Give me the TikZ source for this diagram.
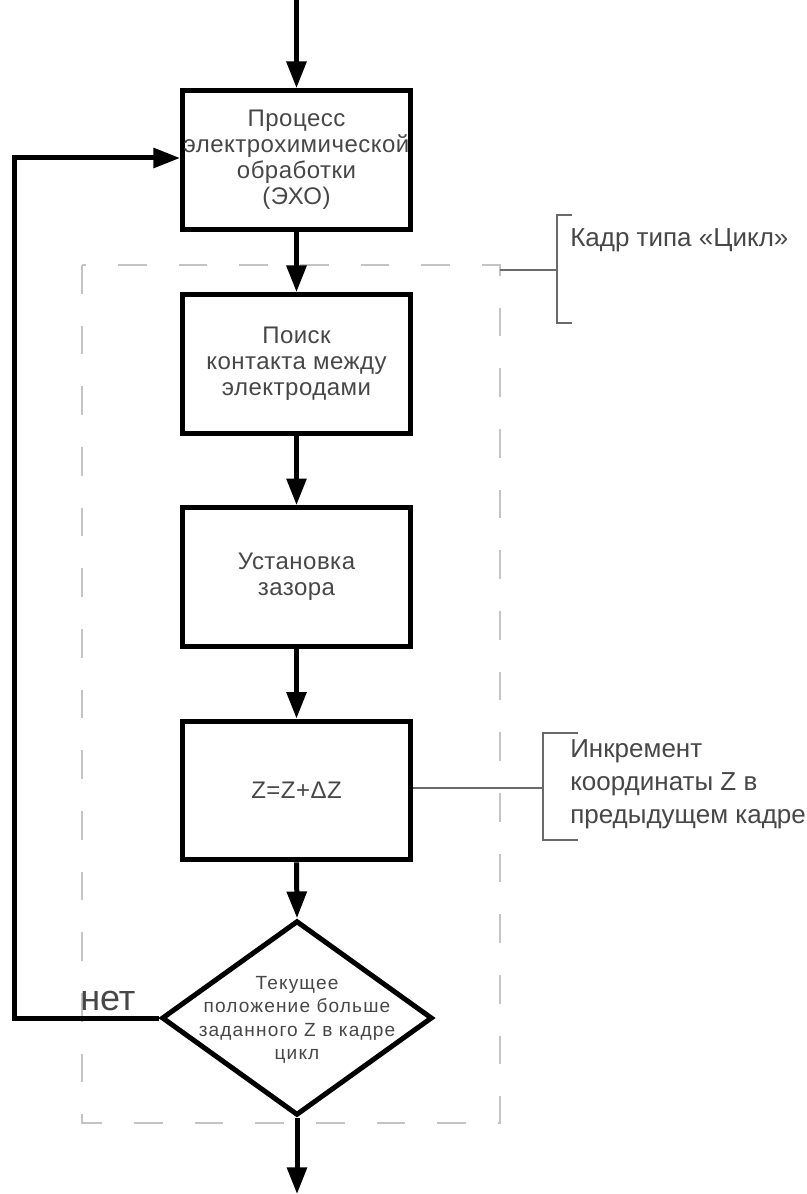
\documentclass[tikz,border=0pt]{standalone}
\usepackage{fontspec}
\setmainfont{Liberation Sans}
\usetikzlibrary{shapes.geometric,arrows.meta}
\definecolor{txt}{HTML}{474747}
\definecolor{dashc}{HTML}{C4C4C4}
\definecolor{annc}{HTML}{6A6A6A}
\tikzset{
  every node/.style={text=txt},
  procbox/.style={draw=black, line width=3.75pt, minimum width=171pt, minimum height=104pt, inner sep=0pt, align=center, font=\fontsize{18}{19.5}\selectfont\addfontfeatures{LetterSpace=2}},
  flow/.style={line width=3.75pt, draw=black, -{Triangle[length=20pt,width=14.5pt]}},
  frame/.style={draw=dashc, line width=0.9pt, dash pattern=on 21.5pt off 24pt},
  ann/.style={draw=annc, line width=0.8pt},
  anntext/.style={anchor=north west, align=left, inner sep=0pt, font=\fontsize{19.5}{25}\selectfont}
}
\begin{document}
\begin{tikzpicture}[x=0.75pt,y=-0.75pt]
\useasboundingbox (0,0) rectangle (806,1194);
% dashed frame
\draw[frame] (82,265) rectangle (500,1123);
% boxes
\node[procbox] (b1) at (296.5,160) {Процесс\\электрохимической\\обработки\\(ЭХО)};
\node[procbox] (b2) at (296.5,364) {Поиск\\контакта между\\электродами};
\node[procbox] (b3) at (296.5,577) {Установка\\зазора};
\node[procbox] (b4) at (296.5,790.5) {Z=Z+ΔZ};
\node[draw=black, line width=3.75pt, diamond, minimum width=203pt, minimum height=146pt, inner sep=0pt] (d) at (297,1018) {};
\node[align=center, font=\fontsize{14.3}{17.6}\selectfont\addfontfeatures{LetterSpace=6}] (dt) at (297,1020) {Текущее\\положение больше\\заданного Z в кадре\\цикл};
% flow
\coordinate (top) at (296.5,0);
\coordinate (bot) at (297,1194);
\draw[flow] (top) -- (b1.north);
\draw[flow] (b1.south) -- (b2.north);
\draw[flow] (b2.south) -- (b3.north);
\draw[flow] (b3.south) -- (b4.north);
\draw[flow] (b4.south) -- (d.north);
\draw[flow] (d.south) -- (bot);
\coordinate (lc) at (14,1018);
\coordinate (uc) at (14,158);
\draw[flow] (d.west) -- (lc) -- (uc) -- (uc -| b1.west);
\node[font=\fontsize{27}{27}\selectfont, anchor=base west, inner sep=0pt] (no) at (80,1010) {нет};
% annotations
\coordinate (a1) at (557,270);
\draw[ann] (500,270) -- (a1);
\draw[ann] (572,215) -- (557,215) -- (557,323) -- (572,323);
\node[anntext] (t1) at (570,228) {Кадр типа «Цикл»};
\coordinate (a2) at (543,788);
\draw[ann] (b4.east |- a2) -- (a2);
\draw[ann] (578,733) -- (543,733) -- (543,840) -- (578,840);
\node[anntext] (t2) at (570,739) {Инкремент\\координаты Z в\\предыдущем кадре};
\end{tikzpicture}
\end{document}
